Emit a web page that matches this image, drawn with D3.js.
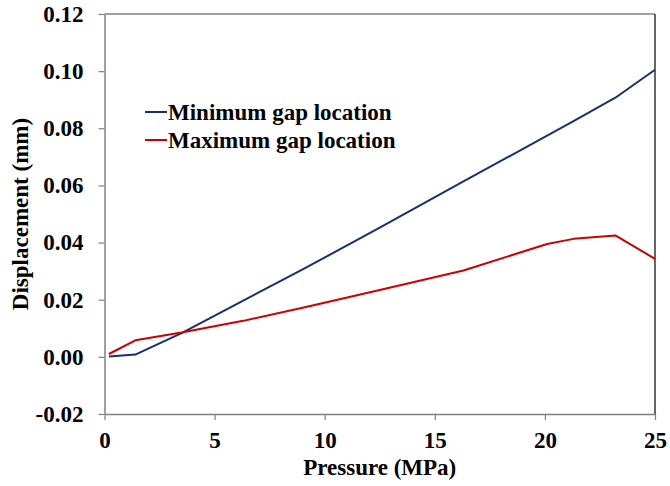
<!DOCTYPE html>
<html>
<head>
<meta charset="utf-8">
<script src="https://cdn.jsdelivr.net/npm/d3@7"></script>
<style>
  html, body { margin: 0; padding: 0; background: #fff; }
  svg { display: block; }
  text { font-family: "Liberation Serif", "Times New Roman", serif; font-weight: bold; fill: #000; }
</style>
</head>
<body>
<svg id="chart" width="670" height="486"></svg>
<script>
// Pressure steps (MPa) and displacement (mm) at the two gap locations
const pressure = [0.2, 1.4, 3.5, 6.3, 9.0, 12.5, 16.3, 20.1, 21.3, 23.2, 25];
const minGap = [0.0001, 0.0008, 0.0083, 0.0197, 0.0306, 0.0452, 0.0614, 0.0774, 0.0825, 0.0907, 0.1005];
const maxGap = [0.0010, 0.0058, 0.0085, 0.0126, 0.0172, 0.0234, 0.0302, 0.0395, 0.0413, 0.0425, 0.0343];
const xTicks = [0, 5, 10, 15, 20, 25];
const yTicks = [-0.02, 0.00, 0.02, 0.04, 0.06, 0.08, 0.10, 0.12];
const yTickLabels = ["-0.02", "0.00", "0.02", "0.04", "0.06", "0.08", "0.10", "0.12"];
const seriesNames = ["Minimum gap location", "Maximum gap location"];
const seriesColors = ["#1a2e72", "#cc0000"];

const FS = 23;
const svg = d3.select("#chart");
const m = { left: 104.5, right: 655, top: 14, bottom: 414 };

const x = d3.scaleLinear().domain([0, 25]).range([m.left, m.right]);
const y = d3.scaleLinear().domain([-0.02, 0.12]).range([m.bottom, m.top]);

// Plot frame: grey top edge, darker right edge
svg.append("line").attr("x1", m.left).attr("x2", m.right).attr("y1", m.top).attr("y2", m.top)
  .attr("stroke", "#808080").attr("stroke-width", 1.5);
svg.append("line").attr("x1", m.right).attr("x2", m.right).attr("y1", m.top).attr("y2", m.bottom)
  .attr("stroke", "#333").attr("stroke-width", 1.5);

// X axis
const xAxis = svg.append("g").attr("transform", `translate(0,${m.bottom})`)
  .call(d3.axisBottom(x).tickValues(xTicks).tickFormat(d3.format("d")).tickSize(6).tickSizeOuter(0));
xAxis.select(".domain").attr("stroke", "#808080").attr("stroke-width", 1.5);
xAxis.selectAll(".tick line").attr("stroke", "#808080").attr("stroke-width", 1.2);
xAxis.selectAll(".tick text").attr("font-size", FS).attr("dy", null).attr("y", 33.5)
  .style("font-family", "Liberation Serif").style("font-weight", "bold").attr("fill", "#000");

// Y axis
const yAxis = svg.append("g").attr("transform", `translate(${m.left},0)`)
  .call(d3.axisLeft(y).tickValues(yTicks).tickFormat((d, i) => yTickLabels[i]).tickSize(6).tickSizeOuter(0));
yAxis.select(".domain").attr("stroke", "#808080").attr("stroke-width", 1.5);
yAxis.selectAll(".tick line").attr("stroke", "#808080").attr("stroke-width", 1.2);
yAxis.selectAll(".tick text").attr("font-size", FS).attr("x", -21)
  .style("font-family", "Liberation Serif").style("font-weight", "bold").attr("fill", "#000");

// Axis titles
svg.append("text").attr("x", (m.left + m.right) / 2).attr("y", 475)
  .attr("text-anchor", "middle").attr("font-size", FS).text("Pressure (MPa)");
svg.append("text").attr("transform", `translate(28,${(m.top + m.bottom) / 2}) rotate(-90)`)
  .attr("text-anchor", "middle").attr("font-size", FS).text("Displacement (mm)");

// Series lines
const line = d3.line().x(d => x(d[0])).y(d => y(d[1]));
[minGap, maxGap].forEach((vals, i) => {
  svg.append("path")
    .datum(pressure.map((p, j) => [p, vals[j]]))
    .attr("fill", "none").attr("stroke", seriesColors[i]).attr("stroke-width", 2)
    .attr("stroke-linejoin", "round").attr("d", line);
});

// Legend
const legend = svg.append("g").attr("transform", "translate(145,112)");
seriesNames.forEach((name, i) => {
  const g = legend.append("g").attr("transform", `translate(0,${i * 28})`);
  g.append("line").attr("x1", 0).attr("x2", 22).attr("y1", 0).attr("y2", 0)
    .attr("stroke", seriesColors[i]).attr("stroke-width", 2);
  g.append("text").attr("x", 23).attr("y", 7.5).attr("font-size", FS).text(name);
});
</script>
</body>
</html>
